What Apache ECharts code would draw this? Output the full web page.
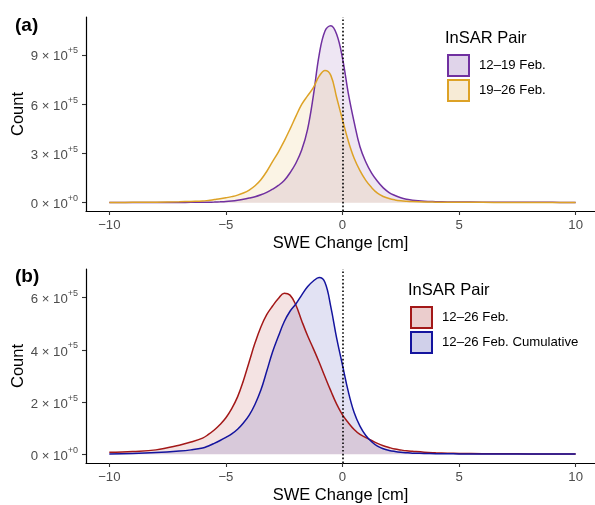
<!DOCTYPE html>
<html>
<head>
<meta charset="utf-8">
<script src="https://cdn.jsdelivr.net/npm/echarts@6/dist/echarts.min.js"></script>
<style>html,body{margin:0;padding:0;background:#fff;}#chart{width:595px;height:505px;}</style>
</head>
<body>
<div id="chart"></div>
<script>
// ---- Data ----
const xTicks = [-10, -5, 0, 5, 10];
const yTicksA = [0, 300000, 600000, 900000];
const yTicksB = [0, 200000, 400000, 600000];

const namesA = ['12–19 Feb.', '19–26 Feb.'];
const namesB = ['12–26 Feb.', '12–26 Feb. Cumulative'];

// SWE change positions (cm) at which the densities were read
const swe = [-10, -9, -8, -7, -6.5,
  -6, -5.75, -5.5, -5.25, -5, -4.75, -4.5, -4.25, -4, -3.75, -3.5, -3.25, -3, -2.75, -2.5, -2.25,
  -2, -1.75, -1.5, -1.25, -1, -0.75, -0.5, -0.25, 0, 0.25, 0.5, 0.75, 1, 1.25, 1.5, 1.75,
  2, 2.25, 2.5, 2.75, 3, 3.5, 4, 4.5, 5, 6, 7, 8, 9, 10];

const feb12_19 = [1000, 1000, 1200, 1500, 2000,
  2500, 3000, 4000, 5500, 7500, 11000, 15500, 21000, 28000, 36000, 48000, 63000, 82000, 105000, 135000, 182000,
  240000, 320000, 445000, 650000, 900000, 1045000, 1077000, 1025000, 880000, 665000, 490000, 340000, 248000, 180000, 130000, 90000,
  62000, 44000, 30000, 21000, 15000, 9000, 6500, 5000, 4500, 3500, 3000, 2500, 2000, 1500];

const feb19_26 = [1500, 2000, 3000, 6000, 8000,
  10000, 14000, 19000, 24000, 30000, 37000, 46000, 59000, 77000, 103000, 140000, 190000, 250000, 308000, 375000, 448000,
  525000, 598000, 650000, 700000, 770000, 805000, 775000, 640000, 505000, 375000, 270000, 195000, 136000, 92000, 58000, 38000,
  25000, 17000, 12000, 9000, 7000, 4500, 3500, 3000, 2500, 2000, 1500, 1500, 1500, 1500];

const feb12_26 = [7500, 11000, 17000, 35000, 47000,
  62000, 76000, 93000, 114000, 140000, 175000, 220000, 282000, 355000, 427000, 488000, 535000, 568000, 597000, 617000, 610000,
  572000, 512000, 455000, 405000, 353000, 297000, 243000, 192000, 151000, 121000, 95000, 76000, 64000, 53000, 42000, 33000,
  26000, 20000, 16500, 13500, 11500, 8000, 6000, 4500, 3500, 2500, 2000, 1500, 1200, 1000];

const feb12_26cum = [1500, 3000, 6500, 12500, 17000,
  24000, 32000, 42000, 53000, 65000, 78000, 96000, 120000, 150000, 192000, 246000, 318000, 392000, 452000, 508000, 548000,
  576000, 610000, 642000, 664000, 677000, 658000, 565000, 445000, 342000, 240000, 160000, 108000, 72000, 48000, 31000, 21000,
  15000, 11000, 8000, 6000, 4500, 3500, 2500, 2000, 1500, 1000, 1000, 1000, 1000, 1000];

// ---- Style ----
const FONT = '"Liberation Sans", Arial, Helvetica, sans-serif';
const colA = ['#7030A0', '#DDA226'];
const keyA = ['#E0D4EA', '#F7EBD6'];
const colB = ['#A31818', '#14149E'];
const keyB = ['#EBCDCD', '#D0D0EA'];

function pair(xs, ys) { return xs.map((x, i) => [x, ys[i]]); }
function xLabel(v) { return String(v).replace('-', '\u2212'); }
function yLabel(v) {
  if (v === 0) return '{m|0 × 10}{s|+0}';
  return '{m|' + (v / 1e5) + ' × 10}{s|+5}';
}

function makeX(idx) {
  return {
    type: 'value', gridIndex: idx, min: -11, max: 10.83,
    name: 'SWE Change [cm]', nameLocation: 'middle', nameGap: 24, nameMoveOverlap: false,
    nameTextStyle: { fontFamily: FONT, fontSize: 16.5, color: '#000' },
    splitLine: { show: false },
    axisLine: { onZero: false, lineStyle: { color: '#000', width: 1.2 } },
    axisTick: { customValues: xTicks, length: 4, lineStyle: { color: '#333', width: 1.1 } },
    axisLabel: { customValues: xTicks, formatter: xLabel, margin: 8, fontFamily: FONT, fontSize: 13.2, color: '#4D4D4D' }
  };
}
function makeY(idx, min, max, ticks) {
  return {
    type: 'value', gridIndex: idx, min: min, max: max,
    name: 'Count', nameLocation: 'middle', nameGap: 59, nameMoveOverlap: false,
    nameTextStyle: { fontFamily: FONT, fontSize: 16.5, color: '#000' },
    splitLine: { show: false },
    axisLine: { show: true, onZero: false, lineStyle: { color: '#000', width: 1.2 } },
    axisTick: { show: true, customValues: ticks, length: 4, lineStyle: { color: '#333', width: 1.1 } },
    axisLabel: {
      customValues: ticks, formatter: yLabel, margin: 8, color: '#4D4D4D',
      rich: {
        m: { fontFamily: FONT, fontSize: 13.2, color: '#4D4D4D', lineHeight: 17, padding: [4, 0, 0, 0] },
        s: { fontFamily: FONT, fontSize: 9, color: '#4D4D4D', verticalAlign: 'top', padding: [0, 0, 0, 0] }
      }
    }
  };
}
function vline() {
  return {
    silent: true, symbol: ['none', 'none'], label: { show: false },
    lineStyle: { type: [1.6, 2.2], color: '#000', width: 1.6 },
    emphasis: { disabled: true },
    data: [{ xAxis: 0 }]
  };
}
function makeSeries(name, xs, ys, color, idx, withLine) {
  const s = {
    type: 'line', name: name, xAxisIndex: idx, yAxisIndex: idx,
    data: pair(xs, ys), smooth: 0.4, showSymbol: false, symbol: 'none',
    lineStyle: { color: color, width: 1.5 },
    itemStyle: { color: color },
    areaStyle: { color: color, opacity: 0.12 },
    emphasis: { disabled: true },
    animation: false, z: 2
  };
  if (withLine) s.markLine = vline();
  return s;
}
function makeLegend(names, cols, keys, left, top) {
  return {
    orient: 'vertical', left: left, top: top, padding: 0,
    itemWidth: 21, itemHeight: 21, itemGap: 2,
    selectedMode: false,
    textStyle: { fontFamily: FONT, fontSize: 13.2, color: '#000', padding: [0, 0, 0, 5] },
    data: names.map((n, i) => ({
      name: n, icon: 'rect',
      itemStyle: { color: keys[i], borderColor: cols[i], borderWidth: 2 }
    }))
  };
}

const chart = echarts.init(document.getElementById('chart'), null, { renderer: 'canvas' });
chart.setOption({
  animation: false,
  backgroundColor: '#fff',
  grid: [
    { left: 86, top: 17, right: 0, height: 194, containLabel: false, outerBoundsMode: 'none' },
    { left: 86, top: 269, right: 0, height: 194, containLabel: false, outerBoundsMode: 'none' }
  ],
  xAxis: [makeX(0), makeX(1)],
  yAxis: [makeY(0, -50500, 1130000, yTicksA), makeY(1, -33300, 710000, yTicksB)],
  legend: [
    makeLegend(namesA, colA, keyA, 447, 54),
    makeLegend(namesB, colB, keyB, 410, 306)
  ],
  graphic: [
    { type: 'text', left: 15, top: 16, style: { text: '(a)', font: 'bold 19px ' + FONT, fill: '#000' } },
    { type: 'text', left: 15, top: 267, style: { text: '(b)', font: 'bold 19px ' + FONT, fill: '#000' } },
    { type: 'text', left: 445, top: 30, style: { text: 'InSAR Pair', font: '16.5px ' + FONT, fill: '#000' } },
    { type: 'text', left: 408, top: 282, style: { text: 'InSAR Pair', font: '16.5px ' + FONT, fill: '#000' } }
  ],
  series: [
    makeSeries(namesA[0], swe, feb12_19, colA[0], 0, true),
    makeSeries(namesA[1], swe, feb19_26, colA[1], 0, false),
    makeSeries(namesB[0], swe, feb12_26, colB[0], 1, true),
    makeSeries(namesB[1], swe, feb12_26cum, colB[1], 1, false)
  ]
});
</script>
</body>
</html>
